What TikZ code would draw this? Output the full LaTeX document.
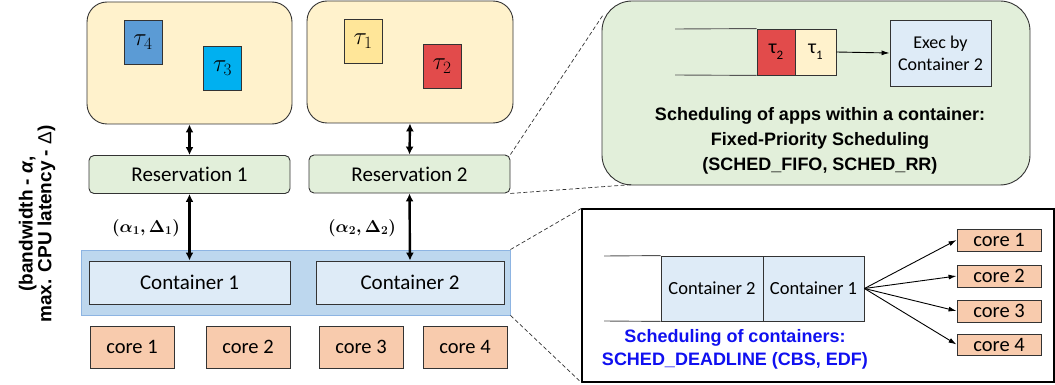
\documentclass[tikz,border=0pt]{standalone}
\usepackage{amsmath,bm}
\usepackage{fontspec}
\setmainfont{Carlito}[Ligatures=NoCommon]
\newfontfamily\arialf{Liberation Sans}
\usetikzlibrary{arrows.meta,calc}
\definecolor{dkline}{HTML}{333333}
\definecolor{appyellow}{HTML}{FFF2CC}
\definecolor{resgreen}{HTML}{E2EFDA}
\definecolor{outerblue}{HTML}{BDD7EE}
\definecolor{outerstroke}{HTML}{8DB4E2}
\definecolor{contblue}{HTML}{DEEBF7}
\definecolor{corefill}{HTML}{F8CBAD}
\definecolor{taufour}{HTML}{5B9BD5}
\definecolor{tauthree}{HTML}{00B0F0}
\definecolor{tauone}{HTML}{FFE699}
\definecolor{tautwo}{HTML}{E24B4B}
\definecolor{schedblue}{HTML}{1010F0}
\definecolor{qline}{HTML}{555555}
\begin{document}
\begin{tikzpicture}[x=1pt,y=-1pt,
  base/.style={draw=dkline, line width=0.9pt, inner sep=0pt, anchor=center},
  appbox/.style={base, fill=appyellow, rounded corners=20pt, minimum width=205pt, minimum height=122pt},
  taskbox/.style={base, minimum width=38pt, minimum height=44pt, font=\fontsize{26}{26}\selectfont},
  resbox/.style={base, fill=resgreen, rounded corners=5pt, minimum width=201pt, minimum height=38pt, font=\fontsize{21}{24}\selectfont},
  contbox/.style={base, fill=contblue, minimum height=43pt, font=\fontsize{21}{24}\selectfont},
  corebox/.style={base, fill=corefill, minimum width=84pt, minimum height=42pt, font=\fontsize{20.5}{24}\selectfont},
  smallcore/.style={base, fill=corefill, minimum width=84pt, minimum height=22pt, font=\fontsize{20.5}{22}\selectfont},
  qbox/.style={base, minimum height=46pt, font=\fontsize{20}{22}\selectfont},
  qcont/.style={base, fill=contblue, minimum height=65pt, font=\fontsize{18.5}{22}\selectfont},
  bigarrow/.style={line width=2.4pt, {Latex[length=8pt,width=8pt]}-{Latex[length=8pt,width=8pt]}},
  thinarrow/.style={line width=0.9pt, -{Latex[length=8pt,width=5pt]}},
  zoomline/.style={dashed, line width=0.7pt, dash pattern=on 4pt off 2.5pt, draw=dkline},
  queueline/.style={line width=0.9pt, draw=qline},
  boldtext/.style={font=\arialf\bfseries\fontsize{18}{25}\selectfont, align=center}
]
\useasboundingbox (0,0) rectangle (1055,385);

% applications
\node[appbox] (app1) at (189.5,63) {};
\node[appbox, minimum width=206pt] (app2) at (410,62) {};
\node[taskbox, fill=taufour] (t4) at (143,42.5) {$\tau_4$};
\node[taskbox, fill=tauthree] (t3) at (222.5,68) {$\tau_3$};
\node[taskbox, fill=tauone] (t1) at (363,41) {$\tau_1$};
\node[taskbox, fill=tautwo] (t2) at (442,66) {$\tau_2$};

% reservations
\node[resbox] (res1) at (189.5,174.5) {Reservation 1};
\node[resbox] (res2) at (409.5,174) {Reservation 2};

% containers
\node[base, draw=outerstroke, fill=outerblue, minimum width=429pt, minimum height=65pt] (outer) at (295.5,282.5) {};
\node[contbox, minimum width=201pt] (c1) at (189.5,282.5) {Container 1};
\node[contbox, minimum width=188pt] (c2) at (410,282.5) {Container 2};

% cores
\node[corebox] (core1) at (132,347) {core 1};
\node[corebox] (core2) at (248,347) {core 2};
\node[corebox] (core3) at (361,347) {core 3};
\node[corebox] (core4) at (465,347) {core 4};

% arrows
\draw[bigarrow] (app1.south) -- (res1.north);
\draw[bigarrow] (app2.south) -- (res2.north);
\draw[bigarrow] (res1.south) -- (c1.north);
\draw[bigarrow] (res2.south) -- (c2.north);
\node[font=\fontsize{18.5}{20}\selectfont\boldmath] (lab1) at (146,228) {$(\alpha_1,\Delta_1)$};
\node[font=\fontsize{18.5}{20}\selectfont\boldmath] (lab2) at (362,228) {$(\alpha_2,\Delta_2)$};

% side text
\node[rotate=90, align=center, font=\arialf\bfseries\fontsize{19}{15.5}\selectfont] (bw) at (37,224)
  {(bandwidth - \textit{α},\\ max. CPU latency - {\mdseries Δ})};

% top right: scheduling within a container
\node[base, fill=resgreen, rounded corners=30pt, minimum width=428pt, minimum height=184pt] (green) at (816,93) {};
\coordinate (gtl) at (603,15);
\coordinate (gbl) at (633,184.5);
\draw[zoomline] (res2.north east) -- (gtl);
\draw[zoomline] (res2.south east) -- (gbl);
\coordinate (qa1) at (675,29);
\coordinate (qb1) at (675,75);
\node[qbox, fill=tautwo, minimum width=38pt] (qt2) at (776,52) {τ\raisebox{-0.3em}{\fontsize{13}{13}\selectfont 2}};
\node[qbox, fill=appyellow, minimum width=41pt] (qt1) at (815.5,52) {τ\raisebox{-0.3em}{\fontsize{13}{13}\selectfont 1}};
\draw[queueline] (qa1) -- (qt2.north west);
\draw[queueline] (qb1) -- (qt2.south west);
\node[base, fill=contblue, minimum width=101pt, minimum height=66pt, align=center, font=\fontsize{18}{22}\selectfont] (exec) at (940.5,53) {Exec by\\Container 2};
\draw[thinarrow] (qt1.east) -- (exec.west);
\node[boldtext] (fp) at (820,141) {Scheduling of apps within a container:\\Fixed-Priority Scheduling\\(SCHED\_FIFO, SCHED\_RR)};

% bottom right: scheduling of containers
\node[base, draw=black, line width=1.2pt, fill=white, minimum width=472pt, minimum height=173pt] (sched) at (818,295.5) {};
\draw[zoomline] (outer.north east) -- (sched.north west);
\draw[zoomline] (outer.south east) -- (sched.south west);
\coordinate (qa2) at (604,256);
\coordinate (qb2) at (604,321);
\node[qcont, minimum width=102pt] (qc2) at (712,288.5) {Container 2};
\node[qcont, minimum width=101pt] (qc1) at (813.5,288.5) {Container 1};
\draw[queueline] (qa2) -- (qc2.north west);
\draw[queueline] (qb2) -- (qc2.south west);
\node[smallcore] (rc1) at (999,240) {core 1};
\node[smallcore] (rc2) at (999,276) {core 2};
\node[smallcore] (rc3) at (999,311) {core 3};
\node[smallcore, minimum height=21pt] (rc4) at (999,344.5) {core 4};
\foreach \k in {1,2,3,4} \draw[thinarrow] (qc1.east) -- (rc\k.west);
\node[boldtext, text=schedblue, font=\arialf\bfseries\fontsize{18}{23}\selectfont] (dl) at (735,349.5) {Scheduling of containers:\\SCHED\_DEADLINE (CBS, EDF)};
\end{tikzpicture}
\end{document}
